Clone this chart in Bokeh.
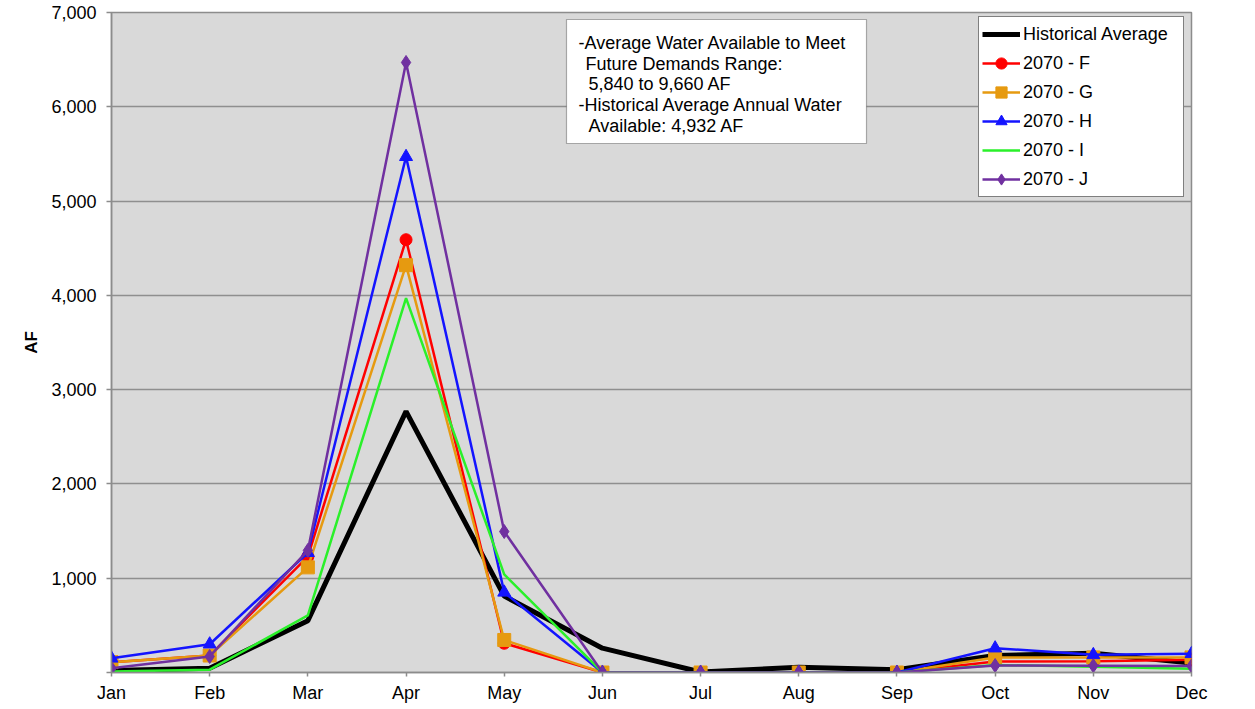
from bokeh.plotting import figure
from bokeh.models import (Legend, LegendItem, Label, BoxAnnotation, FixedTicker,
                          NumeralTickFormatter)
from bokeh.embed import file_html
from bokeh.resources import INLINE

months = ["Jan", "Feb", "Mar", "Apr", "May", "Jun", "Jul", "Aug", "Sep", "Oct", "Nov", "Dec"]
month_idx = list(range(len(months)))

hist_avg = [20, 45, 550, 2770, 810, 258, 5, 56, 30, 180, 205, 100]
f_2070 = [110, 180, 1230, 4590, 310, 0, 0, 0, 0, 117, 120, 135]
g_2070 = [110, 180, 1115, 4320, 345, 0, 0, 0, 0, 160, 160, 160]
h_2070 = [150, 300, 1270, 5470, 850, 0, 0, 0, 0, 258, 187, 198]
i_2070 = [10, 30, 605, 3970, 1040, 0, 0, 0, 0, 80, 60, 40]
j_2070 = [45, 170, 1295, 6470, 1495, 0, 0, 0, 0, 74, 72, 70]

y_ticks = [0, 1000, 2000, 3000, 4000, 5000, 6000, 7000]

note_lines = ["-Average Water Available to Meet",
              "Future Demands Range:",
              "5,840 to 9,660 AF",
              "-Historical Average Annual  Water",
              "Available: 4,932 AF"]

FONT = "Liberation Sans"
FS = "18px"

p = figure(width=1254, height=708, output_backend="svg", toolbar_location=None,
           x_range=(0, 11), y_range=(0, 7000),
           min_border_left=111, min_border_right=63, min_border_top=12, min_border_bottom=36)
p.background_fill_color = "#d9d9d9"
p.border_fill_color = "white"
p.outline_line_color = "#8c8c8c"
p.outline_line_width = 1.5

p.xgrid.visible = False
p.ygrid.grid_line_color = "#8f8f8f"
p.ygrid.grid_line_width = 1.5
p.ygrid.ticker = FixedTicker(ticks=y_ticks)

p.xaxis.ticker = FixedTicker(ticks=month_idx)
p.xaxis.major_label_overrides = {i: m for i, m in zip(month_idx, months)}
p.yaxis.ticker = FixedTicker(ticks=y_ticks)
p.yaxis.formatter = NumeralTickFormatter(format="0,0")
p.yaxis.major_label_overrides = {0: ""}

for ax in (p.xaxis[0], p.yaxis[0]):
    ax.axis_line_color = "#8c8c8c"
    ax.axis_line_width = 1.5
    ax.major_tick_line_color = "#8c8c8c"
    ax.major_tick_line_width = 1.5
    ax.minor_tick_line_color = None
    ax.major_tick_in = 0
    ax.major_label_text_font = FONT
    ax.major_label_text_font_size = FS
    ax.major_label_text_color = "black"

p.xaxis.major_tick_out = 4
p.xaxis.major_label_standoff = 6
p.yaxis.major_tick_out = 5
p.yaxis.major_label_standoff = 10
p.yaxis.axis_label = "AF"
p.yaxis.axis_label_text_font = FONT
p.yaxis.axis_label_text_font_size = "17px"
p.yaxis.axis_label_text_font_style = "bold"
p.yaxis.axis_label_text_color = "black"
p.yaxis.axis_label_standoff = 7

items = []
r = p.line(month_idx, hist_avg, line_color="black", line_width=5)
items.append(LegendItem(label="Historical Average", renderers=[r]))

series = [
    ("2070 - F", f_2070, "#ff0000", "circle", 12),
    ("2070 - G", g_2070, "#e69a10", "square", 13),
    ("2070 - H", h_2070, "#1414ff", "triangle", 13),
    ("2070 - I", i_2070, "#2af02a", None, 0),
    ("2070 - J", j_2070, "#7030a0", "diamond", 14),
]
for name, vals, col, marker, size in series:
    rl = p.line(month_idx, vals, line_color=col, line_width=2.5)
    rends = [rl]
    if marker:
        rs = p.scatter(month_idx, vals, marker=marker, size=size, fill_color=col, line_color=col)
        rends.append(rs)
    items.append(LegendItem(label=name, renderers=rends))

legend = Legend(items=items, location=(867, 475), margin=0, padding=3,
                glyph_width=38, glyph_height=28, label_height=21, label_standoff=3, spacing=1,
                label_width=157,
                border_line_color="black", border_line_width=1.2,
                background_fill_color="white", background_fill_alpha=1.0,
                label_text_font=FONT, label_text_font_size=FS, label_text_color="black")
p.add_layout(legend, "center")

box = BoxAnnotation(left=455, right=755, top=653, bottom=529,
                    left_units="screen", right_units="screen", top_units="screen", bottom_units="screen",
                    fill_color="white", fill_alpha=1.0, line_color="black", line_width=1.2,
                    level="overlay")
p.add_layout(box)

note_x = [467, 474, 477, 467, 477]
note_y = [630, 609, 589, 568, 547]
for txt, lx, ly in zip(note_lines, note_x, note_y):
    p.add_layout(Label(x=lx, y=ly, x_units="screen", y_units="screen", text=txt,
                       text_font=FONT, text_font_size=FS, text_color="black",
                       text_baseline="middle", text_align="left", level="overlay"))

# outer chart frame
outer = BoxAnnotation(left=-101.5, right=1141, top=2000, bottom=-35,
                      left_units="screen", right_units="screen", top_units="screen", bottom_units="screen",
                      fill_alpha=0.0, line_color="#8c8c8c", line_width=1.5, level="overlay")
p.add_layout(outer)
outer2 = BoxAnnotation(left=-105, right=3000, top=2000, bottom=-2000,
                       left_units="screen", right_units="screen", top_units="screen", bottom_units="screen",
                       fill_alpha=0.0, line_color="black", line_width=2, level="overlay")
p.add_layout(outer2)

open("out.html", "w").write(file_html(p, INLINE))
